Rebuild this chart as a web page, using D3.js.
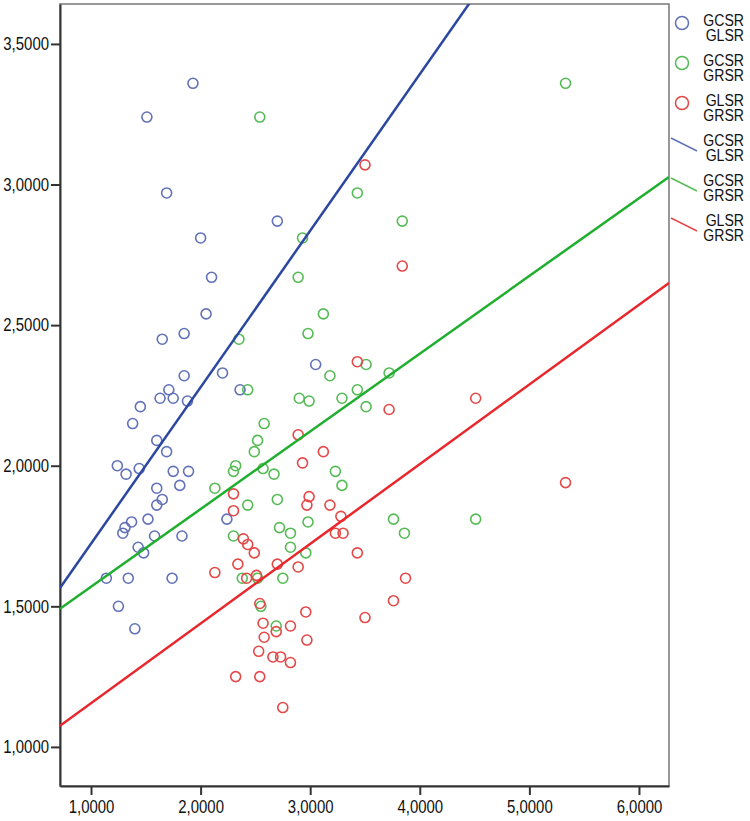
<!DOCTYPE html>
<html>
<head>
<meta charset="utf-8">
<script src="https://cdn.jsdelivr.net/npm/d3@7"></script>
<style>
  body { margin: 0; background: #fff; }
  svg text { font-family: "Liberation Sans", Arial, sans-serif; fill: #111; }
</style>
</head>
<body>
<svg width="750" height="821"></svg>
<script>
// GCSR / GLSR points
const blueX = [1.93, 1.51, 1.69, 2.70, 2.00, 2.10, 2.05, 1.85, 1.65, 3.05, 2.20, 1.85, 2.36, 1.71, 1.63, 1.75, 1.88, 1.45, 1.38, 1.60, 1.69, 1.24, 1.44, 1.32, 1.75, 1.89, 1.81, 1.60, 1.65, 1.60, 1.52, 1.37, 2.24, 1.31, 1.29, 1.58, 1.83, 1.43, 1.48, 1.14, 1.34, 1.74, 1.25, 1.40];
const blueY = [3.36, 3.24, 2.97, 2.87, 2.81, 2.67, 2.54, 2.47, 2.45, 2.36, 2.33, 2.32, 2.27, 2.27, 2.24, 2.24, 2.23, 2.21, 2.15, 2.09, 2.05, 2.00, 1.99, 1.97, 1.98, 1.98, 1.93, 1.92, 1.88, 1.86, 1.81, 1.80, 1.81, 1.78, 1.76, 1.75, 1.75, 1.71, 1.69, 1.60, 1.60, 1.60, 1.50, 1.42];

// GCSR / GRSR points
const greenX = [5.33, 2.54, 3.43, 3.84, 2.93, 2.89, 3.12, 2.98, 2.35, 3.51, 3.18, 3.72, 2.43, 3.43, 2.90, 2.99, 3.29, 3.51, 2.58, 2.52, 2.49, 2.32, 2.57, 2.30, 2.67, 3.23, 3.29, 2.13, 2.70, 2.43, 2.98, 3.76, 4.51, 2.30, 2.72, 2.82, 3.86, 2.82, 2.96, 2.38, 2.52, 2.75, 2.55, 2.69];
const greenY = [3.36, 3.24, 2.97, 2.87, 2.81, 2.67, 2.54, 2.47, 2.45, 2.36, 2.32, 2.33, 2.27, 2.27, 2.24, 2.23, 2.24, 2.21, 2.15, 2.09, 2.05, 2.00, 1.99, 1.98, 1.97, 1.98, 1.93, 1.92, 1.88, 1.86, 1.80, 1.81, 1.81, 1.75, 1.78, 1.76, 1.76, 1.71, 1.69, 1.60, 1.60, 1.60, 1.50, 1.43];

// GLSR / GRSR points
const redX = [3.50, 3.84, 3.43, 4.51, 3.72, 2.89, 3.12, 2.93, 2.30, 2.99, 2.97, 3.18, 2.30, 3.28, 3.23, 3.30, 2.39, 2.43, 3.43, 2.49, 2.34, 2.70, 2.89, 2.13, 2.42, 2.51, 3.87, 3.76, 2.54, 2.96, 3.50, 2.57, 2.82, 2.69, 2.58, 2.97, 2.53, 2.66, 2.73, 2.82, 2.32, 2.54, 2.75, 5.33];
const redY = [3.07, 2.71, 2.37, 2.24, 2.20, 2.11, 2.05, 2.01, 1.90, 1.89, 1.86, 1.86, 1.84, 1.82, 1.76, 1.76, 1.74, 1.72, 1.69, 1.69, 1.65, 1.65, 1.64, 1.62, 1.60, 1.61, 1.60, 1.52, 1.51, 1.48, 1.46, 1.44, 1.43, 1.41, 1.39, 1.38, 1.34, 1.32, 1.32, 1.30, 1.25, 1.25, 1.14, 1.94];

// fit lines: intercept, slope
const fitIntercept = [1.166, 1.293, 0.872];
const fitSlope = [0.5566, 0.2764, 0.2834];

const xTicks = [1, 2, 3, 4, 5, 6];
const yTicks = [1, 1.5, 2, 2.5, 3, 3.5];
const legendTop = ["GCSR", "GCSR", "GLSR"];
const legendBottom = ["GLSR", "GRSR", "GRSR"];

const pointColors = ["#6272b8", "#55bb55", "#e44848"];
const lineColors = ["#2b47a0", "#1fae2e", "#e8262b"];

const svg = d3.select("svg");

const plotLeft = 60, plotRight = 669, plotTop = 4, plotBottom = 786;

const x = d3.scaleLinear().domain([0.717, 6.274]).range([plotLeft, plotRight]);
const y = d3.scaleLinear().domain([0.861, 3.642]).range([plotBottom, plotTop]);

const fmt = (d) => d3.format(".4f")(d).replace(".", ",");

// the original uses a narrow font, squeeze glyphs horizontally
function squeeze(sel, k) {
    sel.each(function() {
        const w = this.getComputedTextLength();
        d3.select(this)
            .attr("textLength", w * k)
            .attr("lengthAdjust", "spacingAndGlyphs");
    });
}

// frame (top / right)
svg.append("rect")
    .attr("x", plotLeft).attr("y", plotTop)
    .attr("width", plotRight - plotLeft).attr("height", plotBottom - plotTop)
    .attr("fill", "none")
    .attr("stroke", "#777")
    .attr("stroke-width", 1.5);

svg.append("clipPath").attr("id", "plot")
    .append("rect")
    .attr("x", plotLeft).attr("y", plotTop)
    .attr("width", plotRight - plotLeft).attr("height", plotBottom - plotTop);

// axes
const xAxis = d3.axisBottom(x).tickValues(xTicks).tickFormat(fmt).tickSize(9).tickSizeOuter(0);
const yAxis = d3.axisLeft(y).tickValues(yTicks).tickFormat(fmt).tickSize(9).tickSizeOuter(0);

const gx = svg.append("g")
    .attr("transform", `translate(0, ${plotBottom})`)
    .call(xAxis);
const gy = svg.append("g")
    .attr("transform", `translate(${plotLeft}, 0)`)
    .call(yAxis);

[gx, gy].forEach((g) => {
    g.attr("font-family", null).attr("font-size", null);
    g.select(".domain").attr("stroke", "#333").attr("stroke-width", 2);
    g.selectAll(".tick line").attr("stroke", "#333").attr("stroke-width", 2);
    g.selectAll(".tick text").attr("font-size", 18).attr("fill", "#111");
});
gx.selectAll(".tick text").attr("y", 14).attr("dy", "0.71em");
gy.selectAll(".tick text").attr("x", -11);
squeeze(svg.selectAll(".tick text"), 0.83);

// points
const series = [
    blueX.map((d, i) => [d, blueY[i]]),
    greenX.map((d, i) => [d, greenY[i]]),
    redX.map((d, i) => [d, redY[i]])
];

series.forEach((pts, k) => {
    svg.append("g")
        .selectAll("circle")
        .data(pts)
        .enter()
        .append("circle")
        .attr("cx", (d) => x(d[0]))
        .attr("cy", (d) => y(d[1]))
        .attr("r", 5)
        .attr("fill", "none")
        .attr("stroke", pointColors[k])
        .attr("stroke-width", 1.6);
});

// fit lines
const x0 = x.domain()[0], x1 = x.domain()[1];
svg.append("g")
    .attr("clip-path", "url(#plot)")
    .selectAll("line")
    .data(fitIntercept)
    .enter()
    .append("line")
    .attr("x1", x(x0))
    .attr("y1", (d, i) => y(d + fitSlope[i] * x0))
    .attr("x2", x(x1))
    .attr("y2", (d, i) => y(d + fitSlope[i] * x1))
    .attr("stroke", (d, i) => lineColors[i])
    .attr("stroke-width", 2.5);

// legend
const legend = svg.append("g");
const textX = 744;

function legendText(row, i) {
    const base = 26 + row * 40;
    const t1 = legend.append("text")
        .attr("x", textX).attr("y", base)
        .attr("text-anchor", "end")
        .attr("font-size", 16)
        .text(legendTop[i]);
    const t2 = legend.append("text")
        .attr("x", textX).attr("y", base + 15)
        .attr("text-anchor", "end")
        .attr("font-size", 16)
        .text(legendBottom[i]);
    squeeze(t1, 0.88);
    squeeze(t2, 0.88);
    return base;
}

legendTop.forEach((t, i) => {
    const base = legendText(i, i);
    legend.append("circle")
        .attr("cx", 682).attr("cy", base - 3)
        .attr("r", 6.5)
        .attr("fill", "none")
        .attr("stroke", pointColors[i])
        .attr("stroke-width", 1.5);
});

legendTop.forEach((t, i) => {
    const base = legendText(i + 3, i);
    legend.append("line")
        .attr("x1", 671).attr("y1", base - 8)
        .attr("x2", 697).attr("y2", base + 5)
        .attr("stroke", pointColors[i])
        .attr("stroke-width", 1.5);
});
</script>
</body>
</html>
